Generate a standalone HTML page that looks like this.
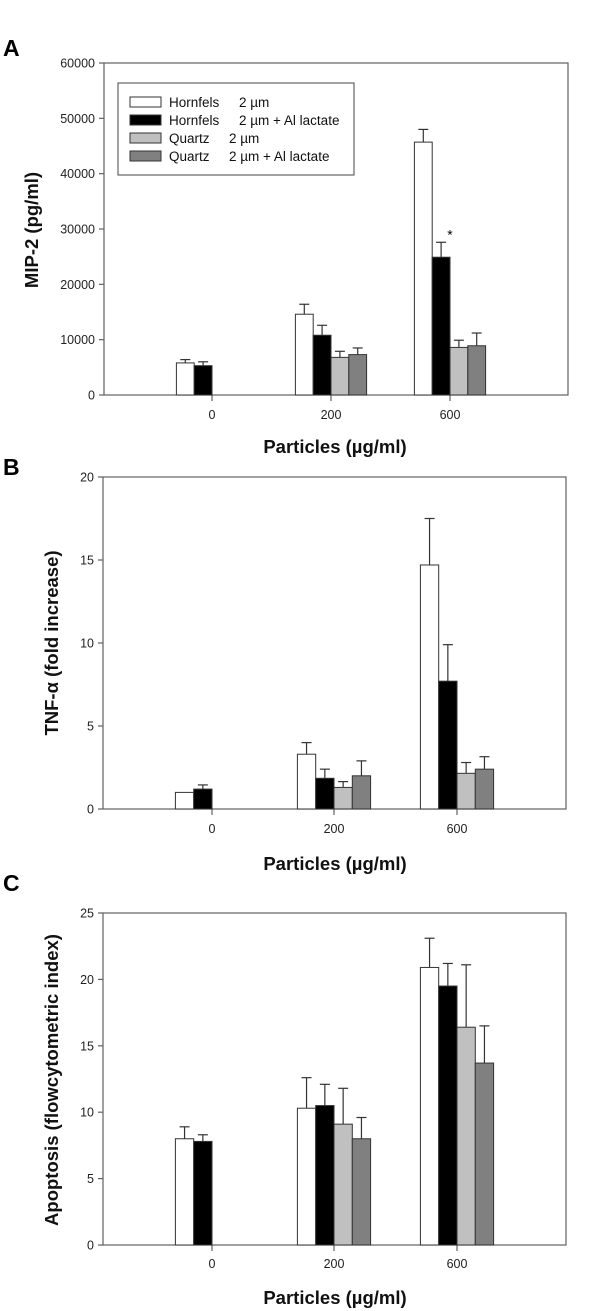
<!DOCTYPE html>
<html><head><meta charset="utf-8"><style>
html,body{margin:0;padding:0;background:#fff;}
svg{display:block;font-family:"Liberation Sans",Arial,sans-serif;}
</style></head><body>
<svg id="fig" width="600" height="1311" viewBox="0 0 600 1311" xmlns="http://www.w3.org/2000/svg"></svg>
<script>
const categories = ["0","200","600"];
const seriesNames = ["Hornfels 2 µm","Hornfels 2 µm + Al lactate","Quartz 2 µm","Quartz 2 µm + Al lactate"];
// Panel A: MIP-2 (pg/ml)
const mipValues = [[5800,14600,45700],[5300,10800,24900],[null,6800,8600],[null,7300,8900]];
const mipErrTop = [[6400,16400,48000],[6000,12600,27600],[null,7900,9900],[null,8500,11200]];
const mipTicks = [0,10000,20000,30000,40000,50000,60000];
// Panel B: TNF-alpha
const tnfValues = [[1.0,3.3,14.7],[1.2,1.85,7.7],[null,1.3,2.15],[null,2.0,2.4]];
const tnfErrTop = [[1.0,4.0,17.5],[1.45,2.4,9.9],[null,1.65,2.8],[null,2.9,3.15]];
const tnfTicks = [0,5,10,15,20];
// Panel C: Apoptosis
const apoValues = [[8.0,10.3,20.9],[7.8,10.5,19.5],[null,9.1,16.4],[null,8.0,13.7]];
const apoErrTop = [[8.9,12.6,23.1],[8.3,12.1,21.2],[null,11.8,21.1],[null,9.6,16.5]];
const apoTicks = [0,5,10,15,20,25];

const fills = ["#ffffff","#000000","#c0c0c0","#808080"];
const NS = "http://www.w3.org/2000/svg";
const svg = document.getElementById('fig');
function mk(tag, attrs, parent){const e=document.createElementNS(NS,tag);for(const k in attrs)e.setAttribute(k,attrs[k]);(parent||svg).appendChild(e);return e;}

function panel(cfg){
  const g = mk('g',{});
  
  
  const L=cfg.left,R=cfg.right,T=cfg.top,B=cfg.bottom;
  const ymax=cfg.ticks[cfg.ticks.length-1];
  const y=v=>B-(v/ymax)*(B-T);
  const x=i=>cfg.xc[i];
  const bw=cfg.bw;
  const frame=mk('rect',{x:L,y:T,width:R-L,height:B-T,fill:'none',stroke:'#606060','stroke-width':1.2},g);
  
  
  cfg.ticks.forEach(t=>{
    mk('line',{x1:L-5,x2:L,y1:y(t),y2:y(t),stroke:'#606060','stroke-width':1.2},g);
    const tx=mk('text',{x:L-9,y:y(t)+4.5,'text-anchor':'end','font-size':12.5,fill:'#222'},g);
    tx.textContent=t;
    
    
  });
  categories.forEach((c,i)=>{
    mk('line',{x1:x(i),x2:x(i),y1:B,y2:B+6,stroke:'#606060','stroke-width':1.2},g);
    const tx=mk('text',{x:x(i),y:cfg.tickY,'text-anchor':'middle','font-size':12.5,fill:'#222'},g);
    tx.textContent=c;
    
    
  });
  cfg.values.forEach((ser,s)=>{
    ser.forEach((v,i)=>{
      if(v==null)return;
      const bx=x(i)-2*bw+s*bw;
      const cx=bx+bw/2;
      const et=cfg.err[s][i];
      if(et!=null && et>v){
        mk('line',{x1:cx,x2:cx,y1:y(v),y2:y(et),stroke:'#333','stroke-width':1.2},g);
        mk('line',{x1:cx-5,x2:cx+5,y1:y(et),y2:y(et),stroke:'#333','stroke-width':1.2},g);
      }
      const r=mk('rect',{x:bx,y:y(v),width:bw,height:B-y(v),fill:fills[s],stroke:'#333','stroke-width':1},g);
      
      
    });
  });
  const xt=mk('text',{x:335,y:cfg.xTitleY,'text-anchor':'middle','font-size':18.5,'font-weight':'bold',fill:'#111'},g);
  xt.textContent='Particles (µg/ml)';
  
  
  const yt=mk('text',{x:0,y:0,'text-anchor':'middle','font-size':18.5,'font-weight':'bold',fill:'#111',transform:'translate('+cfg.yTitleX+','+cfg.yTitleY+') rotate(-90)'},g);
  yt.textContent=cfg.ytitle;
  
  
  const pl=mk('text',{x:3,y:cfg.letterY,'font-size':23,'font-weight':'bold',fill:'#000'},g);
  pl.textContent=cfg.letter;
  
  
  return {g,y,x,bw};
}

const A=panel({name:'panel-a-mip2',left:104,right:568,top:63,bottom:395,xc:[212,331,450],bw:17.8,ticks:mipTicks,values:mipValues,err:mipErrTop,tickY:419,xTitleY:453,yTitleX:38,yTitleY:230,ytitle:'MIP-2 (pg/ml)',letter:'A',letterY:56});
const star=mk('text',{x:A.x(2),y:A.y(mipErrTop[1][2])-3,'text-anchor':'middle','font-size':14,fill:'#000'},A.g);
star.textContent='*';


const lg=mk('g',{});


mk('rect',{x:118,y:83,width:236,height:92,fill:'#fff',stroke:'#444','stroke-width':1},lg);
const legA=[["Hornfels","2 µm"],["Hornfels","2 µm + Al lactate"],["Quartz","2 µm"],["Quartz","2 µm + Al lactate"]];
const col2=[239,239,229,229];
legA.forEach((t,i)=>{
  const yy=102+i*18;
  const e=mk('g',{},lg);
  
  
  mk('rect',{x:130,y:yy-5,width:31,height:10,fill:fills[i],stroke:'#333','stroke-width':1},e);
  const a=mk('text',{x:169,y:yy+5,'font-size':13.5,fill:'#111'},e);a.textContent=t[0];
  const b=mk('text',{x:col2[i],y:yy+5,'font-size':13.5,fill:'#111'},e);b.textContent=t[1];
});
panel({name:'panel-b-tnf',left:103,right:566,top:477,bottom:809,xc:[212,334,457],bw:18.3,ticks:tnfTicks,values:tnfValues,err:tnfErrTop,tickY:833,xTitleY:870,yTitleX:58,yTitleY:643,ytitle:'TNF-α (fold increase)',letter:'B',letterY:475});
panel({name:'panel-c-apoptosis',left:103,right:566,top:913,bottom:1245,xc:[212,334,457],bw:18.3,ticks:apoTicks,values:apoValues,err:apoErrTop,tickY:1268,xTitleY:1304,yTitleX:58,yTitleY:1080,ytitle:'Apoptosis (flowcytometric index)',letter:'C',letterY:891});
</script>
</body></html>
